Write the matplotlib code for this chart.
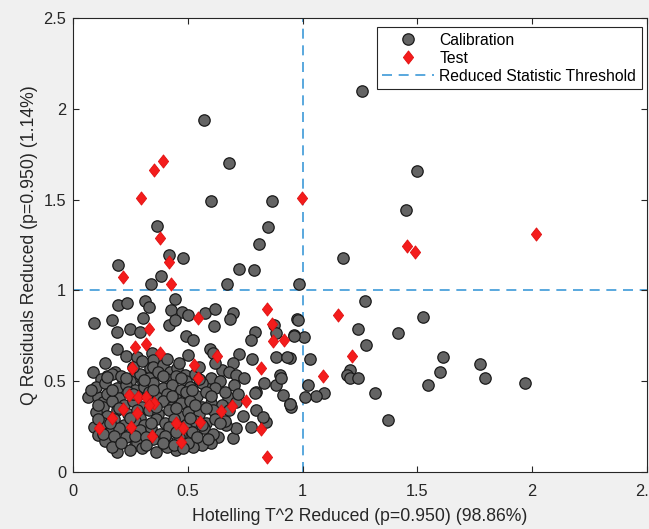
import matplotlib
matplotlib.use("Agg")
import matplotlib.pyplot as plt
from matplotlib.path import Path

plt.rcParams['font.family'] = ['Liberation Sans', 'DejaVu Sans']

# ---------------- data ----------------
cal_x = [
    1.26, 0.57, 0.68, 1.50, 0.60, 0.865, 1.45, 0.365, 0.848, 0.81, 0.417, 0.478, 0.196, 0.722, 0.79, 0.383, 0.34, 0.67, 0.985, 1.178,
    1.27, 1.523, 0.975, 1.243, 1.417, 0.961, 1.004, 1.275, 1.033, 1.613, 1.774, 1.597, 1.207, 1.193, 1.207, 1.241, 1.793, 1.967, 1.545, 1.022,
    1.094, 1.059, 1.01, 1.316, 1.371, 0.943, 0.951, 0.943,
    0.197, 0.236, 0.313, 0.332, 0.444, 0.429, 0.473, 0.502, 0.574, 0.617, 0.697, 0.683, 0.613, 0.091, 0.168, 0.19, 0.248, 0.291, 0.306, 0.419,
    0.444, 0.791, 0.874, 0.98, 0.886,
    0.19, 0.23, 0.277, 0.342, 0.494, 0.523, 0.502, 0.596, 0.61, 0.723, 0.697, 0.781, 0.777, 0.886, 0.932, 0.961, 0.349, 0.335,
    0.086, 0.149, 0.183, 0.219, 0.262, 0.306, 0.349, 0.393, 0.422, 0.451, 0.487, 0.552, 0.581, 0.651, 0.68, 0.712, 0.744, 0.83, 0.9, 0.886,
    0.915, 0.944,
    0.675, 0.907, 0.797, 0.842, 0.777, 0.697, 0.632, 0.603, 0.56, 0.523, 0.712, 0.668,
    0.19, 0.19, 0.27, 0.32, 0.448, 0.661, 0.712, 0.791, 0.799, 0.828,
    0.067, 0.11, 0.091, 0.132, 0.132, 0.11, 0.371,
    0.12, 0.17, 0.21, 0.25, 0.29, 0.33, 0.37, 0.41, 0.45, 0.49, 0.53, 0.60, 0.64,
    0.10, 0.14, 0.19, 0.23, 0.27, 0.31, 0.35, 0.39, 0.43, 0.47, 0.51, 0.56, 0.62, 0.70,
    0.15, 0.20, 0.24, 0.28, 0.33, 0.37, 0.41, 0.45, 0.49, 0.54, 0.58, 0.72,
    0.13, 0.17, 0.22, 0.26, 0.30, 0.34, 0.39, 0.43, 0.47, 0.51, 0.56, 0.60, 0.65,
    0.10, 0.15, 0.19, 0.24, 0.29, 0.33, 0.37, 0.42, 0.46, 0.50, 0.55, 0.61, 0.74,
    0.13, 0.18, 0.22, 0.27, 0.31, 0.36, 0.40, 0.44, 0.49, 0.53, 0.58, 0.62,
    0.16, 0.20, 0.25, 0.29, 0.34, 0.38, 0.43, 0.47, 0.52, 0.57, 0.61,
    0.14, 0.23, 0.28, 0.35, 0.41, 0.46, 0.50,
    0.25, 0.30, 0.36, 0.41,
    0.15, 0.23, 0.31, 0.39, 0.47, 0.55,
    0.08, 0.17, 0.26, 0.35, 0.43, 0.52, 0.60, 0.66,
    0.11, 0.20, 0.28, 0.36, 0.45, 0.53, 0.58, 0.68,
    0.11, 0.16, 0.25, 0.34, 0.42, 0.51, 0.56, 0.64,
    0.13, 0.18, 0.27, 0.32, 0.40, 0.45, 0.54, 0.59,
    0.17, 0.21, 0.32, 0.39, 0.44, 0.48,
    0.14, 0.26, 0.30, 0.41, 0.46, 0.55, 0.62,
]
cal_y = [
    2.10, 1.94, 1.70, 1.66, 1.49, 1.49, 1.44, 1.355, 1.35, 1.255, 1.195, 1.18, 1.14, 1.12, 1.11, 1.08, 1.035, 1.035, 1.035, 1.178,
    0.94, 0.852, 0.84, 0.789, 0.765, 0.753, 0.742, 0.70, 0.624, 0.631, 0.595, 0.549, 0.562, 0.532, 0.516, 0.518, 0.516, 0.49, 0.479, 0.479,
    0.437, 0.419, 0.415, 0.433, 0.286, 0.374, 0.356, 0.63,
    0.919, 0.928, 0.943, 0.906, 0.95, 0.892, 0.883, 0.864, 0.873, 0.895, 0.873, 0.84, 0.804, 0.818, 0.837, 0.772, 0.785, 0.772, 0.846, 0.809,
    0.837, 0.772, 0.809, 0.837, 0.767,
    0.675, 0.638, 0.635, 0.653, 0.749, 0.727, 0.644, 0.675, 0.657, 0.65, 0.598, 0.62, 0.727, 0.635, 0.631, 0.749, 0.617, 0.571,
    0.552, 0.528, 0.552, 0.506, 0.525, 0.497, 0.58, 0.589, 0.552, 0.571, 0.534, 0.506, 0.47, 0.561, 0.552, 0.534, 0.516, 0.488, 0.534, 0.479,
    0.424, 0.374,
    0.415, 0.518, 0.44, 0.277, 0.25, 0.186, 0.195, 0.158, 0.149, 0.139, 0.24, 0.259,
    0.157, 0.112, 0.148, 0.176, 0.121, 0.283, 0.387, 0.433, 0.341, 0.305,
    0.415, 0.415, 0.25, 0.387, 0.305, 0.204, 0.186,
    0.51, 0.54, 0.53, 0.50, 0.54, 0.52, 0.55, 0.51, 0.53, 0.50, 0.54, 0.52, 0.50,
    0.47, 0.49, 0.46, 0.48, 0.45, 0.47, 0.49, 0.46, 0.48, 0.45, 0.47, 0.49, 0.46, 0.48,
    0.43, 0.41, 0.44, 0.42, 0.44, 0.41, 0.43, 0.40, 0.44, 0.42, 0.44, 0.43,
    0.36, 0.39, 0.37, 0.39, 0.36, 0.38, 0.39, 0.36, 0.38, 0.39, 0.36, 0.38, 0.37,
    0.33, 0.31, 0.34, 0.32, 0.30, 0.34, 0.32, 0.34, 0.31, 0.33, 0.32, 0.34, 0.31,
    0.27, 0.29, 0.26, 0.28, 0.26, 0.29, 0.27, 0.29, 0.26, 0.28, 0.27, 0.29,
    0.22, 0.24, 0.21, 0.23, 0.24, 0.21, 0.23, 0.20, 0.22, 0.24, 0.21,
    0.17, 0.19, 0.16, 0.18, 0.17, 0.19, 0.16,
    0.12, 0.13, 0.11, 0.14,
    0.525, 0.515, 0.505, 0.53, 0.52, 0.51,
    0.45, 0.45, 0.43, 0.45, 0.42, 0.45, 0.42, 0.44,
    0.37, 0.35, 0.34, 0.36, 0.35, 0.37, 0.35, 0.34,
    0.29, 0.27, 0.30, 0.27, 0.25, 0.30, 0.26, 0.27,
    0.21, 0.20, 0.20, 0.19, 0.20, 0.22, 0.19, 0.18,
    0.14, 0.16, 0.15, 0.16, 0.15, 0.13,
    0.60, 0.58, 0.61, 0.62, 0.60, 0.58, 0.60,
]

test_x = [0.999, 0.394, 0.351, 0.298, 0.38, 0.42, 0.219, 0.425, 2.016, 1.454, 1.488, 1.155, 1.217, 1.091,
          0.845, 0.867, 0.871, 0.919, 0.82, 0.545, 0.332, 0.27, 0.317, 0.378, 0.259, 0.526, 0.545, 0.625,
          0.242, 0.284, 0.32, 0.352, 0.332, 0.277, 0.216, 0.171, 0.114, 0.251, 0.345, 0.448, 0.477, 0.47,
          0.552, 0.643, 0.694, 0.752, 0.82, 0.845]
test_y = [1.51, 1.714, 1.663, 1.51, 1.287, 1.155, 1.075, 1.035, 1.309, 1.245, 1.21, 0.863, 0.639, 0.529,
          0.90, 0.815, 0.721, 0.727, 0.574, 0.846, 0.789, 0.69, 0.705, 0.653, 0.574, 0.587, 0.519, 0.639,
          0.422, 0.415, 0.415, 0.382, 0.367, 0.323, 0.345, 0.296, 0.24, 0.25, 0.2, 0.268, 0.244, 0.164,
          0.274, 0.338, 0.363, 0.391, 0.237, 0.084]

threshold = 1.0
ticks = [0, 0.5, 1, 1.5, 2, 2.5]
tick_labels = ['0', '0.5', '1', '1.5', '2', '2.5']

# ---------------- figure ----------------
fig = plt.figure(figsize=(6.49, 5.29), dpi=100, facecolor='#f0f0f0')
ax = fig.add_axes([73 / 649, 57 / 529, 574 / 649, 454 / 529])
ax.set_facecolor('white')

diamond = Path([(0, 1), (0.78, 0), (0, -1), (-0.78, 0), (0, 1)],
               [Path.MOVETO, Path.LINETO, Path.LINETO, Path.LINETO, Path.CLOSEPOLY])

line_color = '#3d9ad8'
ax.axvline(threshold, color=line_color, ls=(0, (6, 4)), lw=1.2, zorder=1)
hl = ax.axhline(threshold, color=line_color, ls=(0, (6, 4)), lw=1.2, zorder=1,
                label='Reduced Statistic Threshold')

cal = ax.plot(cal_x, cal_y, ls='none', marker='o', ms=8.2, mfc='#646464', mec='#1a1a1a',
              mew=0.9, zorder=2, label='Calibration')[0]
tst = ax.plot(test_x, test_y, ls='none', marker=diamond, ms=9.5, mfc='#f41c1c', mec='#e01010',
              mew=0.6, zorder=3, label='Test')[0]

ax.set_xlim(0, 2.5)
ax.set_ylim(0, 2.5)
ax.set_xticks(ticks)
ax.set_xticklabels(tick_labels)
ax.set_yticks(ticks)
ax.set_yticklabels(tick_labels)
ax.tick_params(direction='in', length=4, width=0.8, top=True, right=True,
               labelsize=11.8, colors='#262626')
ax.tick_params(axis='x', pad=9)
ax.tick_params(axis='y', pad=5)
for s in ax.spines.values():
    s.set_color('#262626')
    s.set_linewidth(0.8)

ax.set_xlabel('Hotelling T^2 Reduced (p=0.950) (98.86%)', fontsize=12.7, color='#262626', labelpad=6)
ax.set_ylabel('Q Residuals Reduced (p=0.950) (1.14%)', fontsize=12.7, color='#262626', labelpad=4)

leg = ax.legend(handles=[cal, tst, hl], loc='upper right', bbox_to_anchor=(0.991, 0.980),
                borderaxespad=0, fontsize=11.3, frameon=True,
                fancybox=False, edgecolor='#262626', framealpha=1, handlelength=3.3,
                labelspacing=0.2, borderpad=0.35, handletextpad=0.35)
leg.get_frame().set_linewidth(0.8)

fig.savefig('out.png', dpi=100, facecolor=fig.get_facecolor())
